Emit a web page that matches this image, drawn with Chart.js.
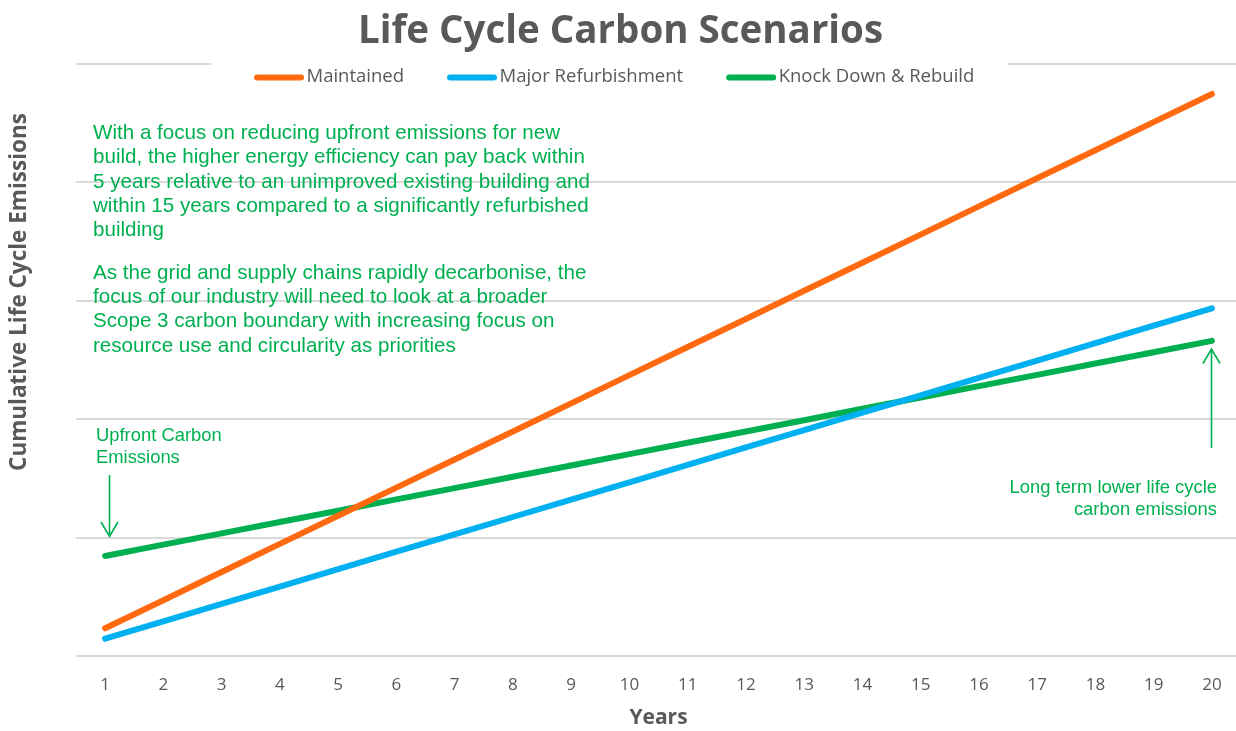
<!DOCTYPE html>
<html>
<head>
<meta charset="utf-8">
<script src="https://cdn.jsdelivr.net/npm/chart.js@4.4.1/dist/chart.umd.min.js"></script>
<style>
html,body{margin:0;padding:0;background:#fff;overflow:hidden;width:1236px;height:731px}
canvas{display:block}
</style>
</head>
<body>
<canvas id="c" width="1241" height="731"></canvas>
<script>
// ---- data ----
const years = ['1','2','3','4','5','6','7','8','9','10','11','12','13','14','15','16','17','18','19','20'];
const maintained  = [23.4, 47.1, 70.9, 94.6, 118.3, 142.1, 165.8, 189.5, 213.2, 237.0, 260.7, 284.4, 308.2, 331.9, 355.6, 379.4, 403.1, 426.8, 450.5, 474.3];
const majorRefurb = [14.6, 29.3, 43.9, 58.6, 73.3, 88.0, 102.6, 117.3, 132.0, 146.6, 161.3, 176.0, 190.6, 205.3, 220.0, 234.7, 249.3, 264.0, 278.7, 293.3];
const knockDown   = [84.4, 94.0, 103.5, 113.1, 122.6, 132.2, 141.7, 151.3, 160.8, 170.4, 179.9, 189.5, 199.0, 208.6, 218.1, 227.7, 237.2, 246.8, 256.3, 265.9];
const seriesNames = ['Maintained', 'Major Refurbishment', 'Knock Down & Rebuild'];
const yMin = 0, yMax = 500, yStep = 100;

const chartTitle = 'Life Cycle Carbon Scenarios';
const xTitle = 'Years';
const yTitle = 'Cumulative Life Cycle Emissions';
const noteParagraph1 = [
  'With a focus on reducing upfront emissions for new',
  'build, the higher energy efficiency can pay back within',
  '5 years relative to an unimproved existing building and',
  'within 15 years compared to a significantly refurbished',
  'building'
];
const noteParagraph2 = [
  'As the grid and supply chains rapidly decarbonise, the',
  'focus of our industry will need to look at a broader',
  'Scope 3 carbon boundary with increasing focus on',
  'resource use and circularity as priorities'
];
const noteUpfront = ['Upfront Carbon', 'Emissions'];
const noteLongTerm = ['Long term lower life cycle', 'carbon emissions'];

// ---- styles ----
const GREY = '#595959';
const GRID = '#d9d9d9';
const NOTE = '#00B050';
const COLORS = ['#FF6A10', '#00B0F0', '#00B050'];

// Legend drawn inside the plot (over the top gridline), like the original
const insideLegend = {
  id: 'insideLegend',
  beforeDatasetsDraw(chart) {
    const ctx = chart.ctx;
    ctx.save();
    ctx.fillStyle = '#ffffff';
    ctx.fillRect(211, 52, 797, 46);
    ctx.font = '18.5px "Open Sans"';
    ctx.textBaseline = 'middle';
    ctx.textAlign = 'left';
    let x = 254;
    const y = 77.5;
    chart.data.datasets.forEach(ds => {
      ctx.strokeStyle = ds.borderColor;
      ctx.lineWidth = 6;
      ctx.lineCap = 'round';
      ctx.beginPath();
      ctx.moveTo(x + 3, y);
      ctx.lineTo(x + 47, y);
      ctx.stroke();
      ctx.fillStyle = GREY;
      const tx = x + 52.5;
      ctx.fillText(ds.label, tx, y - 0.5);
      x = tx + ctx.measureText(ds.label).width + 43;
    });
    ctx.restore();
  }
};

function arrow(ctx, x1, y1, x2, y2) {
  ctx.beginPath();
  ctx.moveTo(x1, y1); ctx.lineTo(x2, y2);
  const dir = Math.sign(y2 - y1);
  ctx.moveTo(x2 - 8.5, y2 - dir * 14.5);
  ctx.lineTo(x2, y2);
  ctx.lineTo(x2 + 8.5, y2 - dir * 14.5);
  ctx.stroke();
}

const annotations = {
  id: 'annotations',
  afterDraw(chart) {
    const ctx = chart.ctx;
    // y axis title
    ctx.save();
    ctx.translate(20, 292);
    ctx.rotate(-Math.PI / 2);
    ctx.font = 'bold 22.5px "Open Sans"';
    ctx.fillStyle = GREY;
    ctx.textAlign = 'center';
    ctx.textBaseline = 'middle';
    ctx.fillText(yTitle, 0, 0);
    ctx.restore();

    ctx.save();
    ctx.fillStyle = NOTE;
    ctx.strokeStyle = NOTE;
    ctx.textBaseline = 'middle';
    ctx.textAlign = 'left';
    ctx.font = '20.6px "Liberation Sans", Arial, sans-serif';
    noteParagraph1.forEach((t, i) => ctx.fillText(t, 93, 133.5 + i * 24.3));
    noteParagraph2.forEach((t, i) => ctx.fillText(t, 93, 273 + i * 24.3));
    ctx.font = '18.4px "Liberation Sans", Arial, sans-serif';
    noteUpfront.forEach((t, i) => ctx.fillText(t, 96, 436 + i * 22));
    ctx.textAlign = 'right';
    noteLongTerm.forEach((t, i) => ctx.fillText(t, 1217, 488 + i * 22));
    ctx.lineWidth = 1.6;
    arrow(ctx, 109.5, 475, 109.5, 536.5);
    arrow(ctx, 1211.5, 448, 1211.5, 349);
    ctx.restore();
  }
};

const datasets = [maintained, majorRefurb, knockDown].map((d, i) => ({
  label: seriesNames[i],
  data: d,
  borderColor: COLORS[i],
  backgroundColor: COLORS[i],
  borderWidth: 6,
  borderCapStyle: 'round',
  borderJoinStyle: 'round',
  pointRadius: 0,
  pointHoverRadius: 0,
  tension: 0,
  fill: false
}));

new Chart(document.getElementById('c'), {
  type: 'line',
  data: { labels: years, datasets },
  options: {
    responsive: false,
    animation: false,
    devicePixelRatio: 1,
    events: [],
    layout: { padding: { left: 0, right: 0, top: 0, bottom: 0 } },
    plugins: {
      tooltip: { enabled: false },
      legend: { display: false },
      title: {
        display: true,
        text: chartTitle,
        color: GREY,
        font: { family: '"Open Sans"', size: 38.5, weight: 'bold', lineHeight: 1.2 },
        padding: { top: 8.5, bottom: 8.8 }
      }
    },
    scales: {
      x: {
        type: 'category',
        offset: true,
        grid: { display: false, drawTicks: false },
        border: { display: false },
        ticks: {
          color: GREY,
          font: { family: '"Open Sans"', size: 17 },
          padding: 19,
          maxRotation: 0,
          autoSkip: false
        },
        title: {
          display: true,
          text: xTitle,
          color: GREY,
          font: { family: '"Open Sans"', size: 21, weight: 'bold', lineHeight: 1.2 },
          padding: { top: -8.6, bottom: 0 }
        }
      },
      y: {
        min: yMin,
        max: yMax,
        afterFit(scale) { scale.width = 76; },
        ticks: { display: false, stepSize: yStep },
        grid: { color: GRID, lineWidth: 2, drawTicks: false },
        border: { display: false }
      }
    }
  },
  plugins: [insideLegend, annotations]
});
</script>
</body>
</html>
